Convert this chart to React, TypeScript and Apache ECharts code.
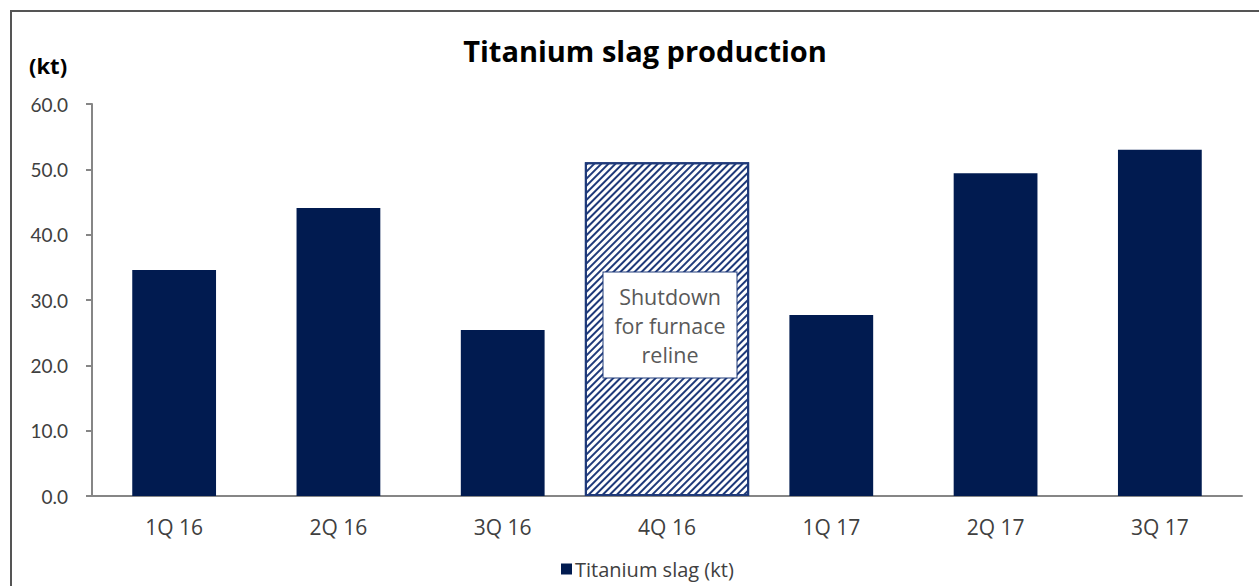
import React, { useEffect, useRef } from "react";
import * as echarts from "echarts";

const categories = ["1Q 16", "2Q 16", "3Q 16", "4Q 16", "1Q 17", "2Q 17", "3Q 17"];
const slagValues: (number | null)[] = [34.6, 44.1, 25.4, null, 27.7, 49.4, 53.0];
const shutdownValues: (number | null)[] = [null, null, null, 51.1, null, null, null];
const yTicks = { min: 0, max: 60, interval: 10 };
const titleText = "Titanium slag production";
const unitText = "(kt)";
const seriesName = "Titanium slag (kt)";
const shutdownText = "Shutdown\nfor furnace\nreline";

const FONT = "Lato, 'Open Sans', sans-serif";
const WIDE = "'Open Sans', Lato, sans-serif";
const NAVY = "#011b50";
const HATCH = "#1f3a7a";

export default function App() {
  const ref = useRef<HTMLDivElement>(null);
  useEffect(() => {
    if (!ref.current) return;
    const chart = echarts.init(ref.current, undefined, { renderer: "svg" });
    chart.setOption({
      animation: false,
      backgroundColor: "#ffffff",
      textStyle: { fontFamily: FONT },
      title: {
        text: titleText,
        left: 640,
        textAlign: "center",
        top: 31,
        textStyle: { fontFamily: WIDE, fontSize: 29, fontWeight: "bold", color: "#000" },
      },
      graphic: [
        {
          type: "rect",
          shape: { x: 11, y: 11, width: 1300, height: 620 },
          style: { fill: "none", stroke: "#555555", lineWidth: 2 },
          silent: true,
        },
        {
          type: "text",
          left: 29,
          top: 54,
          style: { text: unitText, font: `bold 22px ${WIDE}`, fill: "#000" },
        },
      ],
      legend: {
        data: [seriesName],
        left: 556,
        top: 554,
        icon: "rect",
        itemWidth: 11,
        itemHeight: 11,
        itemGap: 5,
        textStyle: { fontFamily: WIDE, fontSize: 20, color: "#404040", padding: [0, 0, 0, -2] },
      },
      grid: { left: 92, right: 17, top: 104, bottom: 90, containLabel: false },
      xAxis: [
        {
          type: "category",
          data: categories,
          axisLine: { show: true, lineStyle: { color: "#868686", width: 2 } },
          axisTick: { show: false },
          axisLabel: { color: "#404040", fontSize: 21, margin: 20, fontFamily: WIDE },
        },
        {
          type: "category",
          data: categories,
          show: false,
          position: "bottom",
        },
      ],
      yAxis: {
        type: "value",
        min: yTicks.min,
        max: yTicks.max,
        interval: yTicks.interval,
        axisLine: { show: true, lineStyle: { color: "#868686", width: 2 } },
        axisTick: { show: true, length: 6, lineStyle: { color: "#868686", width: 2 } },
        splitLine: { show: false },
        axisLabel: {
          color: "#404040",
          fontSize: 19,
          margin: 24,
          fontFamily: FONT,
          formatter: (v: number) => v.toFixed(1),
        },
      },
      series: [
        {
          name: seriesName,
          type: "bar",
          xAxisIndex: 0,
          data: slagValues,
          barWidth: "51%",
          itemStyle: { color: NAVY },
        },
        {
          name: "Shutdown",
          type: "bar",
          xAxisIndex: 1,
          data: shutdownValues,
          barWidth: "100%",
          z: 3,
          itemStyle: {
            color: "#ffffff",
            borderColor: HATCH,
            borderWidth: 2,
            decal: {
              symbol: "rect",
              symbolSize: 1,
              color: HATCH,
              backgroundColor: "#ffffff",
              dashArrayX: [1, 0],
              dashArrayY: [2, 2.5],
              rotation: -Math.PI / 4,
            },
          },
          label: {
            show: true,
            position: "inside",
            offset: [3, -4],
            formatter: shutdownText,
            fontFamily: WIDE,
            fontSize: 21.5,
            lineHeight: 29,
            color: "#595959",
            backgroundColor: "#ffffff",
            borderColor: HATCH,
            borderWidth: 1,
            padding: [9, 0],
            width: 133,
            align: "center",
          },
        },
      ],
    });
    return () => chart.dispose();
  }, []);
  return (
    <div
      ref={ref}
      style={{ position: "fixed", left: 0, top: 0, width: 1259, height: 586 }}
    />
  );
}
